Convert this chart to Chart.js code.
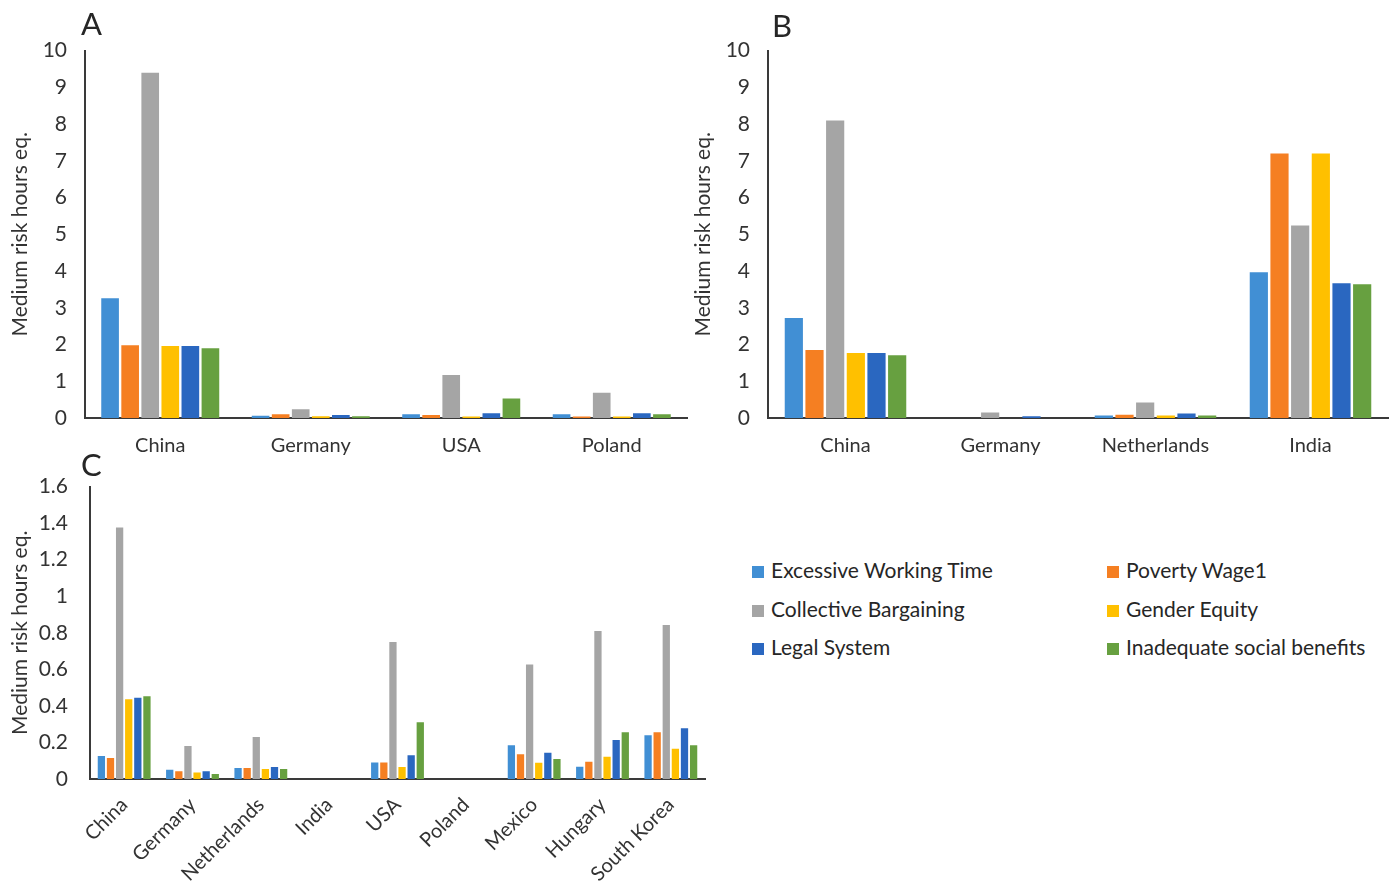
<!DOCTYPE html>
<html>
<head>
<meta charset="utf-8">
<script src="https://cdn.jsdelivr.net/npm/chart.js@4"></script>
<style>
  body { margin: 0; background: #fff; font-family: Lato, sans-serif; color: #262626; }
  #wrap { position: relative; width: 1395px; height: 887px; overflow: hidden; }
  canvas { position: absolute; }
  .panel { position: absolute; font-size: 31px; line-height: 1; }
  #legend { position: absolute; left: 752px; top: 557px; width: 640px; font-size: 21px; }
  .item { position: absolute; white-space: nowrap; line-height: 26px; }
  .box { display: inline-block; width: 12px; height: 12px; margin-right: 7px; vertical-align: 0px; }
</style>
</head>
<body>
<div id="wrap">
  <canvas id="chartA" width="700" height="445" style="left:0;top:20px"></canvas>
  <canvas id="chartB" width="712" height="445" style="left:683px;top:20px"></canvas>
  <canvas id="chartC" width="720" height="435" style="left:0;top:452px"></canvas>
  <div class="panel" style="left:81px;top:8px">A</div>
  <div class="panel" style="left:772px;top:10px">B</div>
  <div class="panel" style="left:81px;top:449px">C</div>
  <div id="legend"></div>
</div>
<script>
// series names and colours
const seriesNames = ['Excessive Working Time', 'Poverty Wage1', 'Collective Bargaining',
                     'Gender Equity', 'Legal System', 'Inadequate social benefits'];
const seriesColors = ['#418FD4', '#F57F22', '#A5A5A5', '#FFC000', '#2A67C0', '#67A040'];

// Panel A
const aCountries = ['China', 'Germany', 'USA', 'Poland'];
const aExcessive = [3.26, 0.06, 0.10, 0.10];
const aPoverty = [1.98, 0.10, 0.08, 0.04];
const aCollective = [9.40, 0.24, 1.17, 0.69];
const aGender = [1.96, 0.05, 0.04, 0.04];
const aLegal = [1.96, 0.08, 0.13, 0.13];
const aSocial = [1.90, 0.05, 0.53, 0.10];

// Panel B
const bCountries = ['China', 'Germany', 'Netherlands', 'India'];
const bExcessive = [2.72, 0, 0.07, 3.97];
const bPoverty = [1.85, 0, 0.09, 7.20];
const bCollective = [8.10, 0.15, 0.42, 5.24];
const bGender = [1.77, 0, 0.07, 7.20];
const bLegal = [1.77, 0.05, 0.12, 3.67];
const bSocial = [1.71, 0, 0.07, 3.64];

// Panel C
const cCountries = ['China', 'Germany', 'Netherlands', 'India', 'USA', 'Poland', 'Mexico', 'Hungary', 'South Korea'];
const cExcessive = [0.126, 0.050, 0.060, 0, 0.090, 0, 0.184, 0.067, 0.240];
const cPoverty = [0.115, 0.042, 0.060, 0, 0.090, 0, 0.136, 0.094, 0.256];
const cCollective = [1.376, 0.180, 0.230, 0, 0.750, 0, 0.626, 0.810, 0.842];
const cGender = [0.436, 0.035, 0.055, 0, 0.065, 0, 0.089, 0.122, 0.165];
const cLegal = [0.445, 0.042, 0.065, 0, 0.130, 0, 0.143, 0.213, 0.278];
const cSocial = [0.453, 0.028, 0.055, 0, 0.310, 0, 0.110, 0.256, 0.185];

const yTitle = 'Medium risk hours eq.';
const textColor = '#333333';
const axisColor = '#3a3a3a';
const fontFamily = 'Lato, sans-serif';

function makeDatasets(rows, barPct) {
    return rows.map(function(values, i) {
        return {
            label: seriesNames[i],
            data: values,
            backgroundColor: seriesColors[i],
            borderWidth: 0,
            barPercentage: barPct,
            categoryPercentage: 0.8
        };
    });
}

function makeChart(id, labels, rows, cfg) {
    const ctx = document.getElementById(id).getContext('2d');
    return new Chart(ctx, {
        type: 'bar',
        data: { labels: labels, datasets: makeDatasets(rows, cfg.barPct) },
        options: {
            responsive: false,
            animation: false,
            layout: { padding: { top: 0, right: cfg.padRight, bottom: 0, left: 0 } },
            plugins: { legend: { display: false }, tooltip: { enabled: false } },
            scales: {
                x: {
                    grid: { display: false, drawTicks: false },
                    border: { display: true, color: axisColor, width: 2 },
                    ticks: {
                        color: textColor,
                        font: { family: fontFamily, size: 20 },
                        padding: cfg.xPad,
                        maxRotation: cfg.rot,
                        minRotation: cfg.rot,
                        autoSkip: false
                    },
                    afterFit: function(s) { s.height = cfg.xHeight; }
                },
                y: {
                    min: 0,
                    max: cfg.max,
                    grid: { display: false, drawTicks: false },
                    border: { display: true, color: axisColor, width: 2 },
                    ticks: {
                        stepSize: cfg.step,
                        color: textColor,
                        font: { family: fontFamily, size: 21 },
                        padding: cfg.yPad,
                        callback: function(v) { return String(Number(v.toFixed(1))); }
                    },
                    title: {
                        display: true,
                        text: yTitle,
                        color: textColor,
                        font: { family: fontFamily, size: 21 },
                        padding: { top: 8, bottom: 0 }
                    },
                    afterFit: function(s) { s.width = cfg.yWidth; }
                }
            }
        }
    });
}

makeChart('chartA', aCountries,
    [aExcessive, aPoverty, aCollective, aGender, aLegal, aSocial],
    { max: 10, step: 1, yWidth: 85, yPad: 18, xPad: 16, xHeight: 47, rot: 0, padRight: 13, barPct: 0.88 });

makeChart('chartB', bCountries,
    [bExcessive, bPoverty, bCollective, bGender, bLegal, bSocial],
    { max: 10, step: 1, yWidth: 85, yPad: 18, xPad: 16, xHeight: 47, rot: 0, padRight: 7, barPct: 0.88 });

makeChart('chartC', cCountries,
    [cExcessive, cPoverty, cCollective, cGender, cLegal, cSocial],
    { max: 1.6, step: 0.2, yWidth: 90, yPad: 22, xPad: 14, xHeight: 108, rot: 45, padRight: 15, barPct: 0.8 });

// legend in two columns
const legend = document.getElementById('legend');
seriesNames.forEach(function(name, i) {
    const item = document.createElement('div');
    item.className = 'item';
    item.style.left = (i % 2 === 0 ? 0 : 355) + 'px';
    item.style.top = (Math.floor(i / 2) * 38.5) + 'px';
    item.innerHTML = '<span class="box" style="background:' + seriesColors[i] + '"></span>' + name;
    legend.appendChild(item);
});
</script>
</body>
</html>
